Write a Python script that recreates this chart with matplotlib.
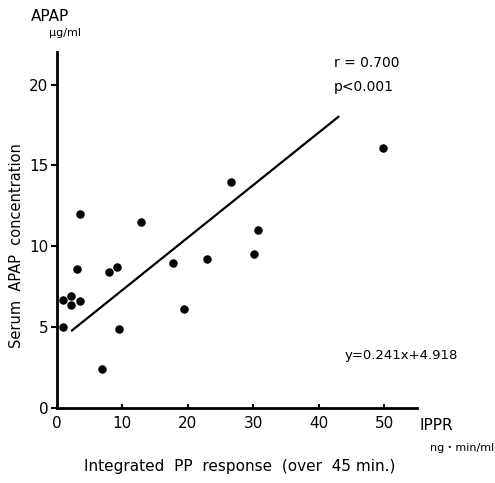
import numpy as np
import matplotlib
matplotlib.use("Agg")
import matplotlib.pyplot as plt

# IPPR (ng*min/ml) vs serum APAP (ug/ml)
ippr = [0.9, 0.9, 2.2, 2.2, 3.6, 3.1, 3.6, 7.9, 9.2, 9.5, 6.9,
        12.9, 17.7, 19.4, 23.0, 26.6, 30.8, 30.1, 49.8]
apap = [5.0, 6.7, 6.9, 6.4, 6.6, 8.6, 12.0, 8.4, 8.7, 4.9, 2.4,
        11.5, 9.0, 6.1, 9.2, 14.0, 11.0, 9.5, 16.1]

# regression line as drawn
line_x = [2.3, 43.0]
line_y = [4.8, 18.0]

xticks = [0, 10, 20, 30, 40, 50]
yticks = [0, 5, 10, 15, 20]

plt.rcParams['font.family'] = ['DejaVu Sans']

fig = plt.figure(figsize=(4.95, 4.83), dpi=100)
ax = fig.add_axes([0.115, 0.155, 0.727, 0.737])

ax.scatter(ippr, apap, s=26, color="black", zorder=3)
ax.plot(line_x, line_y, color="black", lw=1.6)

ax.set_xlim(0, 55)
ax.set_ylim(0, 22)
ax.set_xticks(xticks)
ax.set_yticks(yticks)
ax.spines["top"].set_visible(False)
ax.spines["right"].set_visible(False)
ax.spines["left"].set_linewidth(2)
ax.spines["bottom"].set_linewidth(2)
ax.tick_params(axis="y", direction="out", length=4, width=1.5, labelsize=11, pad=2)
ax.tick_params(axis="x", direction="in", length=3, width=1.5, labelsize=11, pad=6)

fig.text(0.034, 0.492, "Serum  APAP  concentration", fontsize=10.5,
         rotation=90, ha="center", va="center")
fig.text(0.485, 0.035, "Integrated  PP  response  (over  45 min.)", fontsize=11,
         ha="center", va="center")

fig.text(0.062, 0.965, "APAP", fontsize=11, ha="left", va="center")
fig.text(0.1, 0.932, "\u03bcg/ml", fontsize=8, ha="left", va="center")
fig.text(0.848, 0.12, "IPPR", fontsize=11, ha="left", va="center")
fig.text(0.868, 0.073, "ng\u30fbmin/ml", fontsize=8, ha="left", va="center",
         family=["DejaVu Sans", "Noto Sans CJK JP"])

ax.text(0.77, 0.969, "r = 0.700", transform=ax.transAxes, fontsize=10,
        ha="left", va="center")
ax.text(0.77, 0.902, "p<0.001", transform=ax.transAxes, fontsize=10,
        ha="left", va="center")
ax.text(0.80, 0.149, "y=0.241x+4.918", transform=ax.transAxes, fontsize=9.5,
        ha="left", va="center")

fig.savefig("out.png", dpi=100)
